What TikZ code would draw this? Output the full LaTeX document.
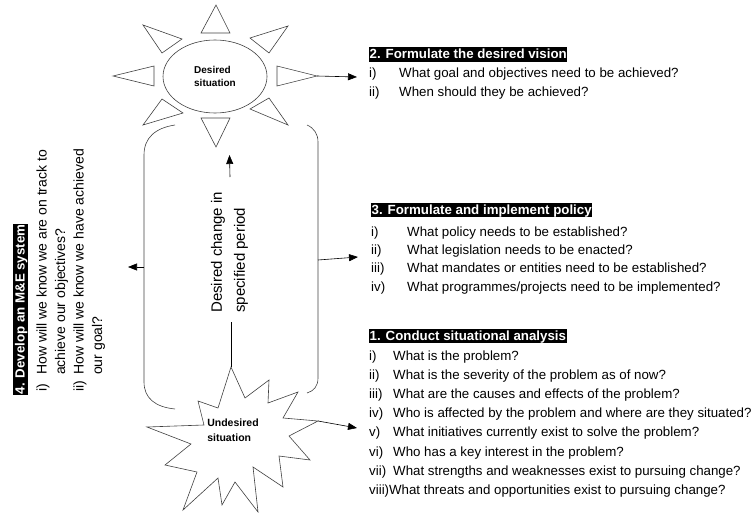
\documentclass[tikz,border=0pt]{standalone}
\usepackage{fontspec}
\setmainfont{Liberation Sans}
\usetikzlibrary{arrows.meta,shapes.geometric}
\begin{document}
\begin{tikzpicture}[x=1pt,y=-1pt,
  ln/.style={draw=black!75, line width=0.6pt},
  arr/.style={draw=black, line width=0.6pt, -{Triangle[length=9pt,width=7pt]}},
  body/.style={font=\fontsize{13.3}{19}\selectfont, inner sep=0pt, anchor=base west},
  bodyr/.style={font=\fontsize{14}{19}\selectfont, inner sep=0pt, anchor=base west, rotate=90},
  hdr/.style={fill=black, text=white, font=\bfseries\fontsize{13.3}{16}\selectfont, inner xsep=0.5pt, inner ysep=0pt, text height=11.6pt, text depth=3.2pt, anchor=south west}]
\useasboundingbox (0,0) rectangle (754,513);

% ---- sun (desired situation)
\node[ln, ellipse, minimum width=104pt, minimum height=73pt, inner sep=0pt, align=left,
      font=\bfseries\fontsize{10}{13}\selectfont] (sun) at (215,76.5) {Desired\\situation};
\draw[ln] (216,5) -- (201,33) -- (230,33) -- cycle;
\draw[ln] (201,118) -- (230,118) -- (216,147) -- cycle;
\draw[ln] (113,76) -- (154,66) -- (154,86) -- cycle;
\draw[ln] (317,76) -- (277,66) -- (277,86) -- cycle;
\draw[ln] (143,25) -- (182,39) -- (162,53) -- cycle;
\draw[ln] (288,26) -- (250,38) -- (269,53) -- cycle;
\draw[ln] (162,99) -- (183,113) -- (143,125) -- cycle;
\draw[ln] (269,98) -- (250,109) -- (288,125) -- cycle;

% ---- brackets
\draw[ln] (175,125) .. controls (155,128) and (144,138) .. (144,155) -- (144,382)
          .. controls (144,398) and (155,407) .. (175,409);
\draw[ln] (307,125) .. controls (314,128) and (318,134) .. (318,142) -- (318,378)
          .. controls (318,386) and (314,391) .. (307,393);

% ---- star (undesired situation)
\draw[ln] (231,367) -- (245,398) -- (269,380) -- (268,403) -- (298,392) -- (283,418)
  -- (318,421) -- (289,436) -- (310,460) -- (279,456) -- (283,487) -- (253,467)
  -- (258,512) -- (235,482) -- (222,505) -- (218,478) -- (183,510) -- (197,472)
  -- (165,465) -- (191,444) -- (147,427) -- (204,425) -- (198,401) -- (218,408) -- cycle;
\node[inner sep=0pt, align=left, font=\bfseries\fontsize{10.5}{15}\selectfont] (us) at (233,430) {Undesired\\situation};

% ---- middle label
\node[inner sep=0pt, align=left, rotate=90, anchor=west, font=\fontsize{15}{23}\selectfont] (dc) at (229.5,313) {Desired change in\\specified period};

% ---- connector coordinates
\coordinate (sunR) at (317,76);
\coordinate (to2) at (357,77);
\coordinate (dcT) at (230,177);
\coordinate (sunB) at (229.5,155);
\coordinate (dcB) at (231,322);
\coordinate (starT) at (231,367);
\coordinate (lb) at (144,267);
\coordinate (to4) at (128,267);
\coordinate (rb) at (318,260);
\coordinate (to3) at (358,257);
\coordinate (starR) at (318,421);
\coordinate (to1) at (357,428);

\draw[arr] (sunR) -- (to2);
\draw[arr] (dcT) -- (sunB);
\draw[ln, draw=black] (dcB) -- (starT);
\draw[arr] (lb) -- (to4);
\draw[arr] (rb) -- (to3);
\draw[arr] (starR) -- (to1);

% ---- block 2
\node[hdr] (h2) at (369,62) {2. Formulate the desired vision};
\node[body] (b2a) at (369,77.5) {i)};
\node[body] (b2at) at (399,77.5) {What goal and objectives need to be achieved?};
\node[body] (b2b) at (369,96.5) {ii)};
\node[body] (b2bt) at (399,96.5) {When should they be achieved?};

% ---- block 3
\node[hdr] (h3) at (371,217.5) {3. Formulate and implement policy};
\node[body] (b3a) at (371,236.5) {i)};
\node[body] (b3at) at (407,236.5) {What policy needs to be established?};
\node[body] (b3b) at (371,254.5) {ii)};
\node[body] (b3bt) at (407,254.5) {What legislation needs to be enacted?};
\node[body] (b3c) at (371,272.5) {iii)};
\node[body] (b3ct) at (407,272.5) {What mandates or entities need to be established?};
\node[body] (b3d) at (371,291.5) {iv)};
\node[body] (b3dt) at (407,291.5) {What programmes/projects need to be implemented?};

% ---- block 1
\node[hdr] (h1) at (369,343.5) {1. Conduct situational analysis};
\node[body] (b1a) at (369,360.5) {i)};
\node[body] (b1at) at (393,360.5) {What is the problem?};
\node[body] (b1b) at (369,379.5) {ii)};
\node[body] (b1bt) at (393,379.5) {What is the severity of the problem as of now?};
\node[body] (b1c) at (369,398.5) {iii)};
\node[body] (b1ct) at (393,398.5) {What are the causes and effects of the problem?};
\node[body] (b1d) at (369,417.5) {iv)};
\node[body] (b1dt) at (393,417.5) {Who is affected by the problem and where are they situated?};
\node[body] (b1e) at (369,436.5) {v)};
\node[body] (b1et) at (393,436.5) {What initiatives currently exist to solve the problem?};
\node[body] (b1f) at (369,456) {vi)};
\node[body] (b1ft) at (393,456) {Who has a key interest in the problem?};
\node[body] (b1g) at (369,475) {vii)};
\node[body] (b1gt) at (393,475) {What strengths and weaknesses exist to pursuing change?};
\node[body] (b1h) at (369,494) {viii)What threats and opportunities exist to pursuing change?};

% ---- block 4 (rotated)
\node[hdr, rotate=90] (h4) at (28,395) {4. Develop an M\&E system};
\node[bodyr] (b4a) at (46.5,392) {i)};
\node[bodyr] (b4at) at (46.5,375) {How will we know we are on track to};
\node[bodyr] (b4at2) at (65,375) {achieve our objectives?};
\node[bodyr] (b4b) at (83.5,392) {ii)};
\node[bodyr] (b4bt) at (83.5,375) {How will we know we have achieved};
\node[bodyr] (b4bt2) at (102,375) {our goal?};
\end{tikzpicture}
\end{document}
